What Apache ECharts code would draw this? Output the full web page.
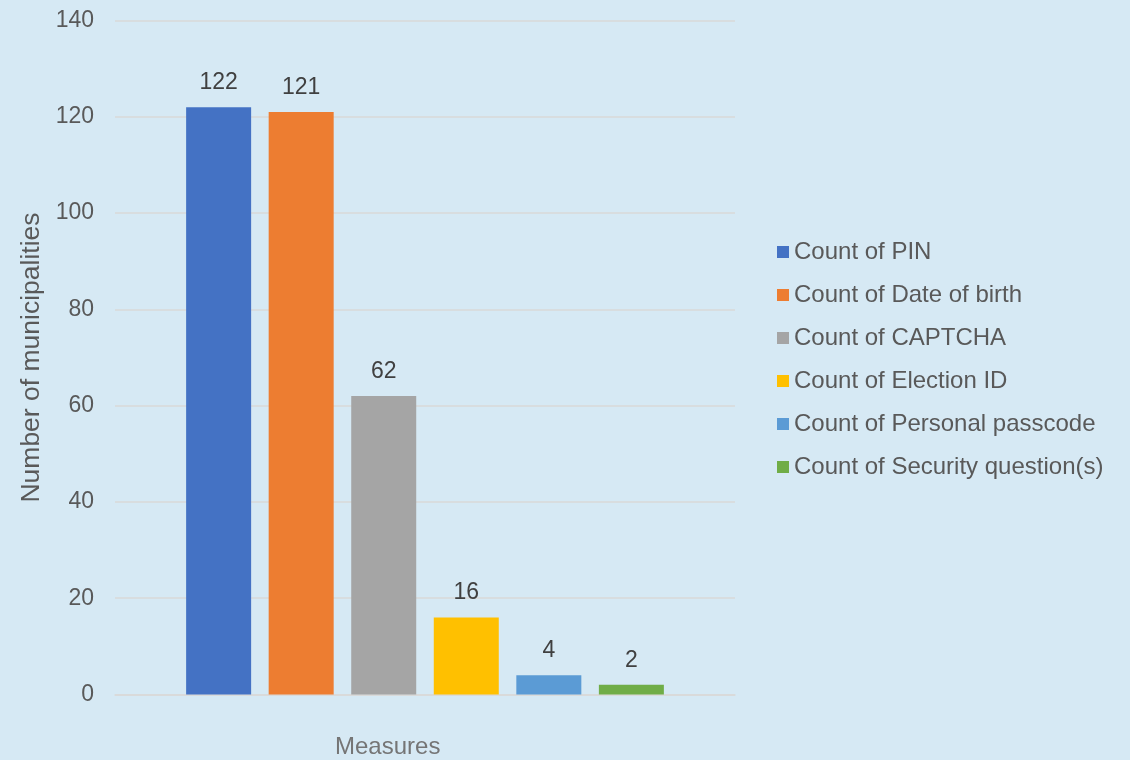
<!DOCTYPE html>
<html>
<head>
<meta charset="utf-8">
<script src="https://cdn.jsdelivr.net/npm/echarts@6/dist/echarts.min.js"></script>
<style>
html,body{margin:0;padding:0;background:#d6e9f4;}
#chart{width:1130px;height:760px;}
</style>
</head>
<body>
<div id="chart"></div>
<script>
const categories = [''];
const seriesNames = ['Count of PIN', 'Count of Date of birth', 'Count of CAPTCHA', 'Count of Election ID', 'Count of Personal passcode', 'Count of Security question(s)'];
const seriesValues = [122, 121, 62, 16, 4, 2];
const seriesColors = ['#4472c4', '#ed7d31', '#a5a5a5', '#ffc000', '#5b9bd5', '#70ad47'];
const yTicks = [0, 20, 40, 60, 80, 100, 120, 140];

const FONT = '"Liberation Sans", Arial, sans-serif';
const chart = echarts.init(document.getElementById('chart'));
chart.setOption({
  backgroundColor: '#d6e9f4',
  animation: false,
  textStyle: { fontFamily: FONT },
  grid: { left: 115, right: 395, top: 20.5, bottom: 65.5, containLabel: false },
  legend: {
    orient: 'vertical',
    left: 772,
    top: 235,
    itemWidth: 12,
    itemHeight: 12,
    itemGap: 19,
    icon: 'rect',
    textStyle: { fontSize: 24, color: '#595959', fontFamily: FONT },
    data: seriesNames
  },
  xAxis: {
    type: 'category',
    data: categories,
    axisLine: { show: true, lineStyle: { color: '#d9d9d9', width: 1.5 } },
    axisTick: { show: false },
    axisLabel: { show: false },
    splitLine: { show: false }
  },
  yAxis: {
    type: 'value',
    min: yTicks[0],
    max: yTicks[yTicks.length - 1],
    interval: 20,
    name: 'Number of municipalities',
    nameLocation: 'middle',
    nameGap: 69,
    nameTextStyle: { fontSize: 26.5, color: '#595959', fontFamily: FONT },
    axisLine: { show: false },
    axisTick: { show: false },
    axisLabel: { fontSize: 23, color: '#595959', margin: 21, fontFamily: FONT },
    splitLine: { lineStyle: { color: '#d9d9d9', width: 1.5 } }
  },
  graphic: [{
    type: 'text',
    left: 335,
    top: 735,
    style: { text: 'Measures', fill: '#757575', font: '24px ' + FONT }
  }],
  series: seriesNames.map((n, i) => ({
    name: n,
    type: 'bar',
    data: [seriesValues[i]],
    barWidth: 65,
    barGap: '27%',
    itemStyle: { color: seriesColors[i] },
    label: { show: true, position: 'top', distance: 13, fontSize: 23, color: '#404040', fontFamily: FONT }
  }))
});
</script>
</body>
</html>
